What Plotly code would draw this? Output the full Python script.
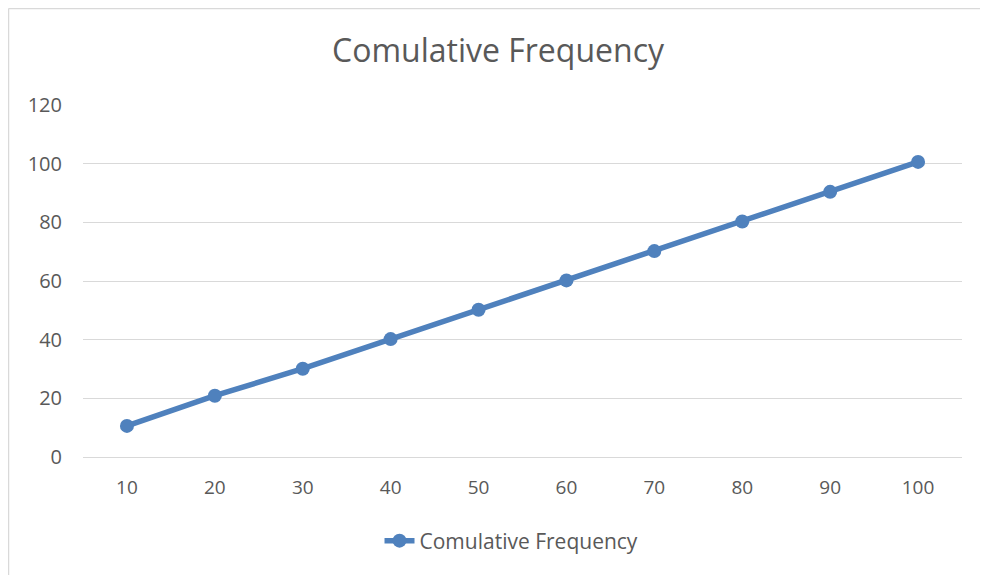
import plotly.graph_objects as go

classes = ['10', '20', '30', '40', '50', '60', '70', '80', '90', '100']
cum_freq = [10.6, 20.9, 30.1, 40.2, 50.2, 60.2, 70.2, 80.3, 90.4, 100.6]

text_color = '#595959'
blue = '#4F81BD'

W, H = 980, 567
L, R, T, B = 75, 26, 97, 118
pw, ph = W - L - R, H - T - B

fig = go.Figure()
fig.add_trace(go.Scatter(x=classes, y=cum_freq, mode='lines+markers',
                         name='Comulative Frequency',
                         line=dict(color=blue, width=5.5),
                         marker=dict(color=blue, size=14)))

fig.update_layout(
    width=W, height=H,
    margin=dict(l=L, r=R, t=T, b=B),
    paper_bgcolor='white', plot_bgcolor='white',
    font=dict(family='Open Sans', color=text_color, size=19),
    title=dict(text='Comulative Frequency', x=0.5, xanchor='center',
               y=1 - 43 / H, yanchor='middle',
               font=dict(family='Open Sans', size=32, color=text_color)),
    showlegend=True,
    legend=dict(orientation='h', x=0.4875, xanchor='center', y=-(533 - 449) / ph,
                yanchor='middle', font=dict(size=21, color=text_color)),
)
fig.update_xaxes(type='category', range=[-0.5, 9.5], showgrid=False,
                 showline=False, zeroline=False, ticks='',
                 ticklabelstandoff=17, tickfont=dict(size=19))
fig.update_yaxes(range=[0, 120], dtick=20, showgrid=True,
                 gridcolor='#D9D9D9', gridwidth=1, zeroline=True,
                 zerolinecolor='#D9D9D9', zerolinewidth=1, showline=False,
                 ticks='', ticklabelstandoff=20, tickfont=dict(size=20))

# chart border: only the left and top edges show in the reference
bx = (0.5 - L) / pw
by = (T + ph - 0.5) / ph
fig.add_shape(type='line', xref='paper', yref='paper',
              x0=bx, x1=bx, y0=-(H - T - ph) / ph, y1=by,
              line=dict(color='#D9D9D9', width=1.5), layer='below')
fig.add_shape(type='line', xref='paper', yref='paper',
              x0=bx, x1=(W - L) / pw, y0=by, y1=by,
              line=dict(color='#D9D9D9', width=1.5), layer='below')

fig.write_html('out.html')
